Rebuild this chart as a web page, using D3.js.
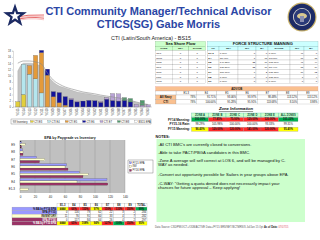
<!DOCTYPE html>
<html>
<head>
<meta charset="utf-8">
<script src="https://cdn.jsdelivr.net/npm/d3@7"></script>
<style>
body { margin: 0; background: #fff; }
svg { display: block; font-family: "Liberation Sans", Arial, sans-serif; }
</style>
</head>
<body>
<svg width="320" height="240"></svg>
<script>
// ---- year group chart data
var yearGroups = ["YG15","YG14","YG13","YG12","YG11","YG10","YG09","YG08","YG07","YG06","YG05","YG04",
                  "YG03","YG02","YG01","YG00","YG99","YG98","YG97","YG96","YG95","YG94","YG93"];
var seriesNames = ["CTI E3","CTI E4","CTI E5","CTI E6","CTI E7","CTI E8"];
var seriesColors = ["#e2cf3c","#b4e6ee","#e49a3a","#12129a","#b9a3d6","#4f9a6c"];
var e3 = [1.7,4.0,0,0,0,0,0,0,0,0,0,0,0,0,0,0,0,0,0,0,0,0,0];
var e4 = [0,9.7,10.5,9.0,4.5,0,0,0,0,0,0,0,0,0,0,0,0,0,0,0,0,0,0];
var e5 = [0,0,2.7,7.5,12.9,10.2,3.3,1.4,0.6,0,0,0,0,0,0,0,0,0,0,0,0,0,0];
var e6 = [0,0,0,0,0.7,1.9,1.6,3.2,2.7,2.4,1.6,1.9,2.1,2.0,1.5,2.5,2.1,1.9,2.1,1.6,0,0,0];
var e7 = [0,0,0,0,0,0,0,0,0,0.4,0.3,0,0,0,0.3,0.5,2.2,2.3,0,0,0.8,0.6,0.7];
var e8 = [0,0,0,0,0,0,0,0,0,0,0,0,0,0,0,0,0,0,0.9,1.1,0,1.5,0];
var inventory = [11.5,14,14,13.7,13.1,10.2,8,6.7,6.1,5.4,4.8,4.5,4.2,3.8,3.5,3.2,2.9,2.6,2.2,1.9,1.4,1.0,0.6];
var epa = [14,14.7,14.7,14.4,13.7,10.9,8.6,7.3,6.4,5.8,5.3,4.8,4.5,4.2,3.8,3.5,3.2,2.9,2.6,2.1,1.6,1.1,0.8];
var legendNames = ["Inventory"].concat(seriesNames).concat(["BS15 EPA"]);

// ---- EPA by paygrade data
var paygrades = ["E9","E8","E7","E6","E5","E4","E1-3"];
var epaNames = ["FY15 EPA","INV","FY16 EPA"];
var epaColors = ["#9999ff","#ffffcc","#993366"];
var epaFy15 = [2,3,22,62,79,116,0];
var invPg = [7,4,33,60,91,76,11];
var epaFy16 = [2,4,26,64,84,117,0];
var tableCols = ["E1-3","E4","E5","E6","E7","E8","E9","TOTAL"];

// ---- sea shore flow
var flowCodes = ["CTT","RMR","SRG","SPT","SMT","PRT","TMS"];
var flowSea = [0,0,0,0,0,0,0];
var flowShore = [0,0,0,0,0,0,0];

// ---- force structure manning
var fsmHead = ["PG","SEA","INV","BA","SHORE","INV","BA"];
var fsmPg = ["E1-3","E4","E5","E6","E7","E8","E9"];
var seaPct = [0,38.40,146.88,137.50,300.00,0,0];
var seaInv = [0,7,22,22,6,0,0];
var seaBa = [0,13,16,16,2,0,0];
var shorePct = [0,73.60,108.00,83.44,133.33,175.00,0];
var shoreInv = [40,17,47,18,16,7,0];
var shoreBa = [0,15,44,19,12,4,0];

// ---- adv/ob
var advCols = ["E1-3","E4","E5","E6","E7","E8","E9"];
var advNavy = ["78%","91.71%","93.06%","93.97%","98.48%","113.12%","113.12%"];
var advCti = ["78%","100.00%","95.28%","95.91%","113.68%","8.10%","3.98%"];

// ---- zones
var zoneNames = ["ZONE A","ZONE B","ZONE C","ZONE D","ZONE E","ALL ZONES"];
var zoneRows = ["FY14 Manning:","FY15-16 Rate:","FY15 Manning:"];
var fy14Man = [100.00,77.85,75.00,120.00,120.00,101.33];
var fy1516Rate = [98.29,105.98,100.00,100.00,93.33,99.31];
var fy15Man = [96.40,120.00,120.00,141.00,120.00,95.40];

var notes = [
  ["-All CTI BMC's are currently closed to conversions."],
  ["-Able to take PACT/PBGA candidates in this BMC."],
  ["-Zone A average will self correct at LOS 6, and will be managed by C-", "WAY as needed."],
  ["-Convert out opportunity possible for Sailors in year groups above EPA."],
  ["-C-WAY: \u201cGetting a quota denied does not necessarily impact your", "chances for future approval \u2013 Keep applying!"]
];

var svg = d3.select("svg");

function txt(g, x, y, s, size, opt) {
    opt = opt || {};
    return g.append("text")
        .attr("x", x).attr("y", y)
        .attr("font-size", size)
        .attr("text-anchor", opt.anchor || "start")
        .attr("font-weight", opt.bold ? "bold" : "normal")
        .attr("fill", opt.fill || "#111")
        .text(s);
}

function cell(g, x, y, w, h, fill, s, size, opt) {
    opt = opt || {};
    g.append("rect").attr("x", x).attr("y", y).attr("width", w).attr("height", h)
        .attr("fill", fill).attr("stroke", opt.stroke || "#9a9a9a").attr("stroke-width", 0.25);
    if (s !== undefined && s !== "") {
        var a = opt.anchor || "middle";
        var tx = a == "middle" ? x + w / 2 : (a == "end" ? x + w - 0.8 : x + 0.8);
        txt(g, tx, y + h / 2 + size * 0.36, s, size, {anchor: a, bold: opt.bold, fill: opt.fill});
    }
}

function pctColor(v) {
    if (v >= 98 && v <= 102) return "#00b050";
    if (v >= 90 && v <= 110) return "#ffff00";
    return "#ff2a2a";
}

// ---- header
var logo = svg.append("g");
var star = d3.range(10).map(function(i) {
    var r = i % 2 ? 5 : 12.5, a = -Math.PI / 2 + i * Math.PI / 5;
    return [15 + r * Math.cos(a), 16 + r * Math.sin(a)];
});
[0, 1, 2, 3].forEach(function(i) {
    logo.append("path")
        .attr("d", "M12," + (18 + i * 1.3) + " Q28," + (14 + i) + " 44," + (15 + i * 1.6))
        .attr("fill", "none").attr("stroke", i % 2 ? "#f4b8b8" : "#e04848").attr("stroke-width", 0.8);
});
logo.append("polygon").attr("points", star.join(" ")).attr("fill", "#1b2a63");
logo.append("polygon").attr("points", star.map(function(p) {
    return [15 + (p[0] - 15) * 0.45, 16 + (p[1] - 16) * 0.45];
}).join(" ")).attr("fill", "#fff");

var seal = svg.append("g");
seal.append("circle").attr("cx", 302).attr("cy", 17).attr("r", 14.5).attr("fill", "#c9b26a");
seal.append("circle").attr("cx", 302).attr("cy", 17).attr("r", 13.3).attr("fill", "#1d2b66");
seal.append("circle").attr("cx", 302).attr("cy", 17).attr("r", 9).attr("fill", "#e8e4d8");
seal.append("circle").attr("cx", 302).attr("cy", 17).attr("r", 8.2).attr("fill", "#2a3a78");
seal.append("ellipse").attr("cx", 302).attr("cy", 16).attr("rx", 5).attr("ry", 3).attr("fill", "#d8c890");
seal.append("rect").attr("x", 300).attr("y", 16).attr("width", 4).attr("height", 6).attr("fill", "#8a8fb0");

txt(svg, 158.5, 15, "CTI Community Manager/Technical Advisor", 11, {anchor: "middle", bold: true, fill: "#2b46a5"});
txt(svg, 158.5, 28, "CTICS(SG) Gabe Morris", 11, {anchor: "middle", bold: true, fill: "#2b46a5"});
txt(svg, 151, 40, "CTI (Latin/South America) - BS15", 5.4, {anchor: "middle", fill: "#222"});

// ---- year group chart
var yg = svg.append("g");
var x = d3.scaleBand().domain(yearGroups).range([14, 152]).padding(0.28);
var y = d3.scaleLinear().domain([0, 18]).range([107, 50.7]);
var cx = function(i) { return x(yearGroups[i]) + x.bandwidth() / 2; };

yg.append("path")
    .datum(inventory)
    .attr("d", d3.area().x(function(d, i) { return cx(i); })
        .y0(y(0)).y1(function(d) { return y(d); }).curve(d3.curveMonotoneX))
    .attr("fill", "#c3c3c3").attr("stroke", "#9a9a9a").attr("stroke-width", 0.3);

var rows = yearGroups.map(function(k, i) {
    return {k: k, "CTI E3": e3[i], "CTI E4": e4[i], "CTI E5": e5[i], "CTI E6": e6[i], "CTI E7": e7[i], "CTI E8": e8[i]};
});
var stacked = d3.stack().keys(seriesNames)(rows);
yg.selectAll("g.s").data(stacked).enter().append("g")
    .attr("fill", function(d, i) { return seriesColors[i]; })
    .selectAll("rect").data(function(d) { return d; }).enter().append("rect")
    .attr("x", function(d) { return x(d.data.k); })
    .attr("width", x.bandwidth())
    .attr("y", function(d) { return y(d[1]); })
    .attr("height", function(d) { return y(d[0]) - y(d[1]); })
    .attr("stroke", "#555").attr("stroke-width", function(d) { return d[1] > d[0] ? 0.25 : 0; });

yg.append("path")
    .datum(epa)
    .attr("d", d3.line().x(function(d, i) { return cx(i); }).y(function(d) { return y(d); }).curve(d3.curveMonotoneX))
    .attr("fill", "none").attr("stroke", "#8a8a8a").attr("stroke-width", 0.6);

var yAx = yg.append("g").attr("transform", "translate(13,0)")
    .call(d3.axisLeft(y).ticks(9).tickSize(1).tickPadding(1));
yAx.selectAll("text").attr("font-size", 2.6).attr("fill", "#333");
yAx.selectAll("path,line").attr("stroke", "#888").attr("stroke-width", 0.3);
yg.append("line").attr("x1", 13).attr("x2", 152).attr("y1", y(0)).attr("y2", y(0))
    .attr("stroke", "#888").attr("stroke-width", 0.3);

yearGroups.forEach(function(k, i) {
    yg.append("text").attr("transform", "translate(" + (cx(i) + 1) + ",108.5) rotate(-90)")
        .attr("text-anchor", "end").attr("font-size", 2.8).attr("fill", "#333").text(k);
});

var lg = yg.append("g");
lg.append("rect").attr("x", 11).attr("y", 119).attr("width", 140).attr("height", 5)
    .attr("fill", "#fff").attr("stroke", "#666").attr("stroke-width", 0.35);
var legendColors = ["#c3c3c3"].concat(seriesColors).concat(["#ffffff"]);
legendNames.forEach(function(n, i) {
    var lx = 13 + i * 17.4;
    lg.append("rect").attr("x", lx).attr("y", 120.6).attr("width", 3).attr("height", 1.8)
        .attr("fill", legendColors[i]).attr("stroke", "#555").attr("stroke-width", 0.2);
    txt(lg, lx + 3.8, 122.6, n, 2.6, {fill: "#222"});
});

// ---- EPA by paygrade chart
var eg = svg.append("g");
var bx = d3.scaleLinear().domain([0, 140]).range([20, 125]);
var by = d3.scaleBand().domain(paygrades).range([141, 193]).paddingInner(0.12).paddingOuter(0.05);
var inner = d3.scaleBand().domain(epaNames).range([0, by.bandwidth()]);
txt(eg, 70, 138.5, "EPA by Paygrade vs Inventory", 3.6, {anchor: "middle", bold: true, fill: "#222"});
eg.append("rect").attr("x", 20).attr("y", 140).attr("width", 105).attr("height", 53).attr("fill", "#c0c0c0");
var xAx = eg.append("g").attr("transform", "translate(0,193)")
    .call(d3.axisBottom(bx).tickValues(d3.range(0, 141, 20)).tickSize(0).tickPadding(2.5));
xAx.selectAll("text").attr("font-size", 3).attr("fill", "#222");
xAx.select("path").remove();
bx.ticks(7).forEach(function(t) {
    eg.append("line").attr("x1", bx(t)).attr("x2", bx(t)).attr("y1", 140).attr("y2", 193)
        .attr("stroke", "#7a7a7a").attr("stroke-width", 0.3);
});
var epaSeries = [epaFy15, invPg, epaFy16];
epaSeries.forEach(function(vals, s) {
    paygrades.forEach(function(p, i) {
        eg.append("rect").attr("x", bx(0)).attr("y", by(p) + inner(epaNames[s]))
            .attr("width", bx(vals[i]) - bx(0)).attr("height", inner.bandwidth())
            .attr("fill", epaColors[s]).attr("stroke", "#333").attr("stroke-width", vals[i] ? 0.2 : 0);
    });
});
paygrades.forEach(function(p) {
    txt(eg, 15, by(p) + by.bandwidth() / 2 + 1, p, 3, {anchor: "end", fill: "#222"});
});
var el = eg.append("g");
el.append("rect").attr("x", 128).attr("y", 160).attr("width", 25).attr("height", 13)
    .attr("fill", "#fff").attr("stroke", "#333").attr("stroke-width", 0.3);
epaNames.forEach(function(n, i) {
    el.append("rect").attr("x", 129.5).attr("y", 161.8 + i * 3.8).attr("width", 2).attr("height", 2)
        .attr("fill", epaColors[i]).attr("stroke", "#333").attr("stroke-width", 0.2);
    txt(el, 132.5, 163.6 + i * 3.8, n, 2.6, {fill: "#222"});
});

// ---- table under it
var tg = svg.append("g");
var tx0 = 57, cw = 11.25, rh = 3.6, ty0 = 203.5;
tableCols.forEach(function(c, j) {
    cell(tg, tx0 + j * cw, ty0, cw, rh, "#fff", c, 2.6, {bold: true});
});
function tot(a) { return d3.sum(a); }
var rowsT = [
    {label: "% BA by FY14 EPA", bg: "#9999ff", fg: "#111", pct: true, inv: invPg, base: epaFy15},
    {label: "EPA (FY15)", bg: "#9999ff", fg: "#111", vals: epaFy15},
    {label: "INVENTORY", bg: "#ffffcc", fg: "#111", vals: invPg},
    {label: "EPA (FY16)", bg: "#993366", fg: "#fff", vals: epaFy16},
    {label: "% BA by FY15 EPA", bg: "#993366", fg: "#fff", pct: true, inv: invPg, base: epaFy16}
];
rowsT.forEach(function(r, ri) {
    var yy = ty0 + rh * (ri + 1);
    cell(tg, 12, yy, tx0 - 12, rh, r.bg, r.label, 2.6, {bold: true, fill: r.fg, anchor: "end"});
    var order = paygrades.slice().reverse();
    order.forEach(function(p, j) {
        var i = paygrades.indexOf(p);
        if (r.pct) {
            var b = r.base[i];
            if (!b) cell(tg, tx0 + j * cw, yy, cw, rh, "#ffff00", "####", 2.6, {bold: true});
            else {
                var v = r.inv[i] / b * 100;
                cell(tg, tx0 + j * cw, yy, cw, rh, pctColor(v), Math.round(v) + "%", 2.6, {bold: true});
            }
        } else {
            cell(tg, tx0 + j * cw, yy, cw, rh, "#fff", r.vals[i], 2.6, {anchor: "end"});
        }
    });
    if (r.pct) {
        var tv = tot(r.inv) / tot(r.base) * 100;
        cell(tg, tx0 + 7 * cw, yy, cw, rh, pctColor(tv), Math.round(tv) + "%", 2.6, {bold: true});
    } else {
        cell(tg, tx0 + 7 * cw, yy, cw, rh, "#fff", tot(r.vals), 2.6, {anchor: "end"});
    }
});

// ---- sea shore flow
var fg = svg.append("g");
cell(fg, 155.5, 41.5, 50, 5, "#ccffcc", "Sea Shore Flow", 4, {bold: true, stroke: "#6a6"});
["CODE","SEA","SHORE"].forEach(function(h, j) {
    cell(fg, 155.5 + j * 16.67, 46.5, 16.67, 4, "#ccffcc", h, 2.5, {bold: true, stroke: "#6a6"});
});
flowCodes.forEach(function(c, i) {
    var yy = 50.5 + i * 4.75;
    cell(fg, 155.5, yy, 16.67, 4.75, "#fff", c, 2.5, {anchor: "start"});
    cell(fg, 172.17, yy, 16.67, 4.75, "#fff", flowSea[i], 2.5);
    cell(fg, 188.84, yy, 16.67, 4.75, "#fff", flowShore[i], 2.5);
});

// ---- force structure manning
var mg = svg.append("g");
var mcols = [207.5, 219, 238, 256, 268, 290, 304, 318];
cell(mg, 207.5, 41.5, 110.5, 5, "#ccffff", "FORCE STRUCTURE MANNING", 4, {bold: true, stroke: "#6aa"});
fsmHead.forEach(function(h, j) {
    cell(mg, mcols[j], 46.5, mcols[j + 1] - mcols[j], 4, "#ccffff", h, 2.5, {bold: true, stroke: "#6aa"});
});
fsmPg.forEach(function(p, i) {
    var yy = 50.5 + i * 4.75;
    var vals = [p, seaPct[i].toFixed(2) + "%", seaInv[i], seaBa[i], shorePct[i].toFixed(2) + "%", shoreInv[i], shoreBa[i]];
    vals.forEach(function(v, j) {
        cell(mg, mcols[j], yy, mcols[j + 1] - mcols[j], 4.75, "#fff", v, 2.5,
            {anchor: j == 0 ? "start" : (j == 1 || j == 4 ? "start" : "end"), bold: j == 0});
    });
});

// ---- adv/ob
var ag = svg.append("g");
cell(ag, 155.5, 86.5, 162.5, 4.5, "#fac08f", "ADV/OB", 2.8, {bold: true, stroke: "#d99"});
var acols = d3.range(8).map(function(j) { return 176 + j * 20.3; });
advCols.forEach(function(c, j) {
    cell(ag, acols[j], 91, 20.3, 4, "#fff", c, 2.6);
});
cell(ag, 155.5, 91, 20.5, 4, "#fff", "", 2.6);
[["All Navy", advNavy], ["CTI", advCti]].forEach(function(r, ri) {
    var yy = 95 + ri * 4.5;
    cell(ag, 155.5, yy, 20.5, 4.5, "#fac08f", r[0], 3, {bold: true});
    r[1].forEach(function(v, j) {
        cell(ag, acols[j], yy, 20.3, 4.5, "#fff", v, 2.6, {anchor: "end"});
    });
});

// ---- zone information
var zg = svg.append("g");
var zt = txt(zg, 236, 110, "Zone Information", 4.2, {anchor: "middle", bold: true, fill: "#111"});
zt.attr("text-decoration", "underline").attr("font-style", "italic");
var zcols = [191.5, 208.5, 226, 243.5, 261, 278.5, 298];
zoneNames.forEach(function(z, j) {
    cell(zg, zcols[j], 113, zcols[j + 1] - zcols[j], 4, "#ccffcc", z, 2.7, {bold: true, stroke: "#3a9", fill: "#0b4f3f"});
});
[fy14Man, fy1516Rate, fy15Man].forEach(function(vals, ri) {
    var yy = 117.5 + ri * 4.9;
    txt(zg, 190, yy + 3, zoneRows[ri], 3.1, {anchor: "end", bold: true, fill: "#111"});
    vals.forEach(function(v, j) {
        var bg = ri == 1 ? "#fff" : pctColor(v);
        cell(zg, zcols[j], yy, zcols[j + 1] - zcols[j], 4, bg, v.toFixed(2) + "%", 2.7,
            {bold: ri != 1, stroke: ri == 1 ? "#fff" : "#888"});
    });
});

// ---- notes
var ng = svg.append("g");
txt(ng, 155.5, 137.5, "NOTES:", 3.8, {bold: true, fill: "#111"});
ng.append("rect").attr("x", 156.5).attr("y", 139).attr("width", 148.5).attr("height", 83).attr("fill", "#ccffcc");
var ny = [145.5, 153.5, 161.5, 175.5, 184.5];
notes.forEach(function(lines, i) {
    lines.forEach(function(l, k) {
        txt(ng, 158, ny[i] + k * 4.4, l, 4.15, {fill: "#111"});
    });
});

// ---- footer
var ft = svg.append("text").attr("x", 155).attr("y", 228).attr("font-size", 2.6).attr("fill", "#555");
ft.append("tspan").text("Data Source: CSD/PMO/CT+/ODB/ACTIVE Data+/FY15 BRS/NET/BCTMRS/S Jul/Jan 15 Opt  ");
ft.append("tspan").attr("font-weight", "bold").attr("fill", "#222").text("As of Data: ");
ft.append("tspan").attr("fill", "#e05060").text("07/07/15");
</script>
</body>
</html>
